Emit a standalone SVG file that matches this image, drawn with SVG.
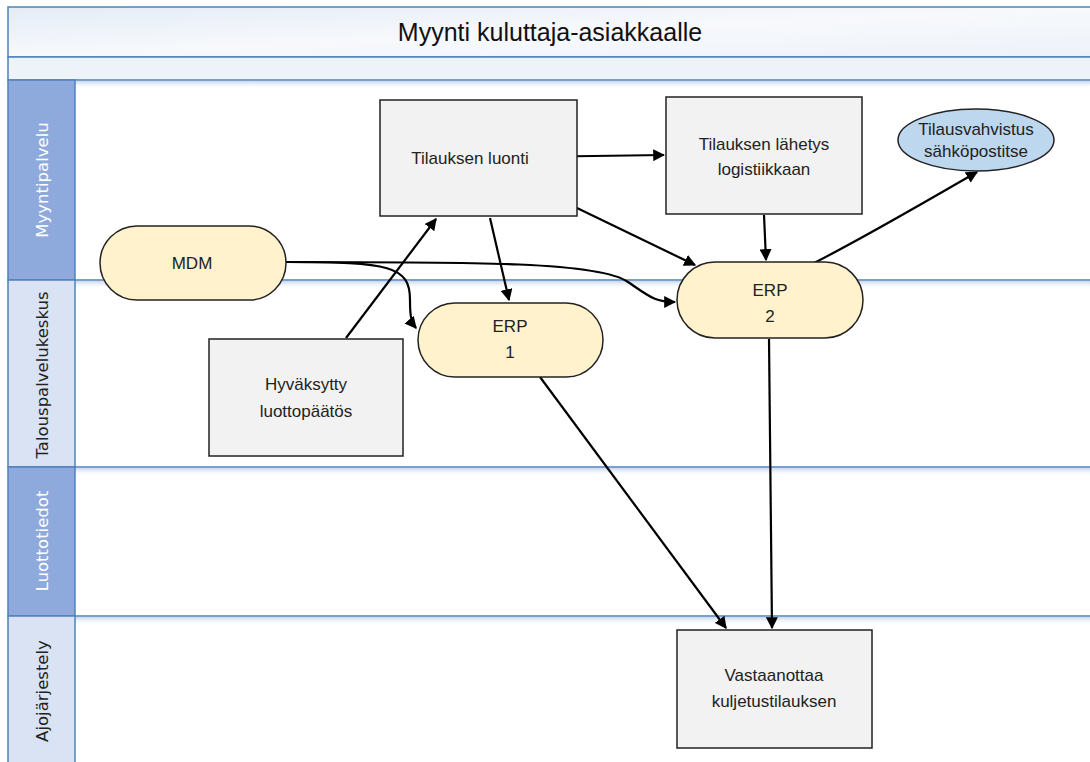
<svg xmlns="http://www.w3.org/2000/svg" width="1090" height="762" viewBox="0 0 1090 762">
<defs>
<linearGradient id="gTitle" x1="0" y1="0" x2="1" y2="1">
<stop offset="0" stop-color="#E4ECF7"/><stop offset="0.5" stop-color="#F7F9FC"/><stop offset="1" stop-color="#EDF2F9"/>
</linearGradient>
<linearGradient id="gShadow" x1="0" y1="0" x2="0" y2="1">
<stop offset="0" stop-color="#C9D7EA"/><stop offset="1" stop-color="#FFFFFF" stop-opacity="0"/>
</linearGradient>
<marker id="arrL" viewBox="0 0 10 10" refX="9" refY="5" markerWidth="12" markerHeight="12" markerUnits="userSpaceOnUse" orient="auto">
<path d="M0,0 L10,5 L0,10 z" fill="#000"/>
</marker>
</defs>
<style>
.lanebox{stroke:#4F81BD;stroke-width:1.5}
.lbl{font-family:"DejaVu Sans",sans-serif;font-size:16.5px;text-anchor:middle}
.t{font-family:"Liberation Sans",Arial,sans-serif;font-size:17px;fill:#222;text-anchor:middle}
.box{fill:#F2F2F2;stroke:#222;stroke-width:1.5}
.pill{fill:#FFF2CC;stroke:#222;stroke-width:1.5}
.conn path{fill:none;stroke:#000;stroke-width:2.2;marker-end:url(#arrL)}
</style>
<rect width="1090" height="762" fill="#FFFFFF"/>
<g id="pool">
<rect x="8" y="7" width="1090" height="50" fill="url(#gTitle)" class="lanebox"/>
<rect x="8" y="57" width="1090" height="23" fill="#EEF2F9" class="lanebox"/>
<text x="550" y="41" font-family="Liberation Sans,Arial,sans-serif" font-size="25" text-anchor="middle" fill="#111">Myynti kuluttaja-asiakkaalle</text>
<rect x="75" y="81" width="1020" height="8" fill="url(#gShadow)"/>
<rect x="75" y="281" width="1020" height="8" fill="url(#gShadow)"/>
<rect x="75" y="468" width="1020" height="8" fill="url(#gShadow)"/>
<rect x="75" y="617" width="1020" height="8" fill="url(#gShadow)"/>
</g>
<g id="lane-myyntipalvelu">
<rect x="8" y="80" width="67" height="200" fill="#8EA9DB" class="lanebox"/>
<line x1="75" y1="280" x2="1095" y2="280" class="lanebox"/>
<text class="lbl" fill="#FFFFFF" transform="translate(48,180) rotate(-90)">Myyntipalvelu</text>
</g>
<g id="lane-talouspalvelukeskus">
<rect x="8" y="280" width="67" height="187" fill="#DAE3F3" class="lanebox"/>
<line x1="75" y1="467" x2="1095" y2="467" class="lanebox"/>
<text class="lbl" fill="#222" transform="translate(48,375) rotate(-90)">Talouspalvelukeskus</text>
</g>
<g id="lane-luottotiedot">
<rect x="8" y="467" width="67" height="149" fill="#8EA9DB" class="lanebox"/>
<line x1="75" y1="616" x2="1095" y2="616" class="lanebox"/>
<text class="lbl" fill="#FFFFFF" transform="translate(48,541) rotate(-90)">Luottotiedot</text>
</g>
<g id="lane-ajojarjestely">
<rect x="8" y="616" width="67" height="160" fill="#DAE3F3" class="lanebox"/>
<text class="lbl" fill="#222" transform="translate(48,691) rotate(-90)">Ajojärjestely</text>
</g>

<g id="connectors" class="conn">
<path d="M522,157 L664,155"/>
<path d="M490,218 L509,300"/>
<path d="M577,208 L695,265"/>
<path d="M764,215 L766,260"/>
<path d="M812,264 C860,240 920,205 977,172"/>
<path d="M346,338 L436,219"/>
<path d="M286,262 C390,262 410,266 410,300 C410,316 411,322 416,328"/>
<path d="M286,262 C480,262 600,262 628,282 C650,297 655,302 675,302"/>
<path d="M540,377 L726,628"/>
<path d="M769,339 L772,628"/>
</g>

<g id="node-tilauksen-luonti">
<rect x="380" y="100" width="197" height="116" class="box"/>
<text class="t" x="470" y="164">Tilauksen luonti</text>
</g>
<g id="node-tilauksen-lahetys">
<rect x="666" y="97" width="196" height="117" class="box"/>
<text class="t" x="764" y="150">Tilauksen lähetys</text>
<text class="t" x="764" y="175">logistiikkaan</text>
</g>
<g id="node-tilausvahvistus">
<ellipse cx="976" cy="140" rx="78" ry="31" fill="#BDD7EE" stroke="#222" stroke-width="1.5"/>
<text class="t" x="976" y="135" font-size="13">Tilausvahvistus</text>
<text class="t" x="976" y="157" font-size="13">sähköpostitse</text>
</g>
<g id="node-mdm">
<rect x="100" y="226" width="186" height="74" rx="37" class="pill"/>
<text class="t" x="192" y="269">MDM</text>
</g>
<g id="node-erp1">
<rect x="418" y="303" width="185" height="74" rx="37" class="pill"/>
<text class="t" x="510" y="332">ERP</text>
<text class="t" x="510" y="358">1</text>
</g>
<g id="node-erp2">
<rect x="677" y="262" width="186" height="76" rx="38" class="pill"/>
<text class="t" x="770" y="296">ERP</text>
<text class="t" x="770" y="322">2</text>
</g>
<g id="node-hyvaksytty">
<rect x="209" y="339" width="194" height="117" class="box"/>
<text class="t" x="306" y="390">Hyväksytty</text>
<text class="t" x="306" y="417">luottopäätös</text>
</g>
<g id="node-vastaanottaa">
<rect x="677" y="630" width="195" height="118" class="box"/>
<text class="t" x="774" y="681">Vastaanottaa</text>
<text class="t" x="774" y="707">kuljetustilauksen</text>
</g>
</svg>
